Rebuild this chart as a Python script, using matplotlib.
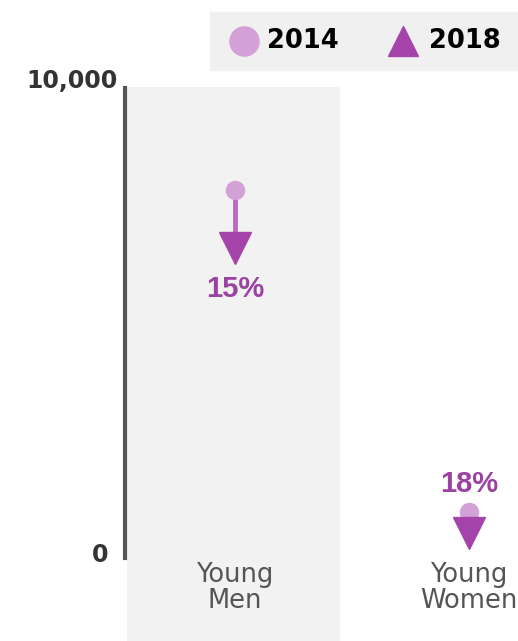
import matplotlib.pyplot as plt
from matplotlib.patches import Rectangle
import matplotlib.transforms as mtransforms

# values
categories = ['Young\nMen', 'Young\nWomen']
v2014 = [7830, 980]
v2018 = [6600, 530]
pct_labels = ['15%', '18%']
yticks = [0, 10000]
ytick_labels = ['0', '10,000']

c14 = '#d4a0d8'
c18 = '#a444aa'
ctext = '#9b42a3'

plt.rcParams['font.family'] = ['DejaVu Sans']

fig = plt.figure(figsize=(5.18, 6.41), dpi=100)
W, H = 518, 641
# axes from x=125px to right edge, y=87px down to bottom
ax = fig.add_axes([125 / W, 0, 1 - 125 / W, (H - 87) / H])
ax.set_xlim(-0.47, 1.21)
ax.set_ylim(-1766, 10021)

# shaded band behind first category
ax.axvspan(-0.46, 0.45, color='#f2f2f2', zorder=0, lw=0)

for s in ['top', 'right', 'bottom']:
    ax.spines[s].set_visible(False)
ax.spines['left'].set_bounds(0, 10000)
ax.spines['left'].set_linewidth(3)
ax.spines['left'].set_color('#555555')
ax.set_xticks([])
ax.set_yticks([])

# y labels placed by hand (10,000 sits a bit above the top)
tr = mtransforms.blended_transform_factory(ax.transAxes, ax.transData)
ax.text(-0.018, yticks[1] + 150, ytick_labels[1], transform=tr, ha='right', va='center',
        fontsize=17, fontweight='bold', color='#333333')
ax.text(-0.043, yticks[0] + 60, ytick_labels[0], transform=tr, ha='right', va='center',
        fontsize=17, fontweight='bold', color='#333333')

for i, cat in enumerate(categories):
    ax.plot([i, i], [v2014[i], v2018[i]], color='#b96bbf', lw=3.5, zorder=2,
            solid_capstyle='butt')
    ax.plot(i, v2014[i], 'o', color=c14, ms=13, zorder=3)
    ax.plot(i, v2018[i], 'v', color=c18, ms=23, zorder=4)
    ax.text(i, -90, cat, ha='center', va='top', fontsize=18.5,
            color='#555555', linespacing=1.0)

ax.annotate(pct_labels[0], (0, v2018[0]), xytext=(0, -30), textcoords='offset points',
            ha='center', va='center', fontsize=21, fontweight='bold', color=ctext,
            family='Liberation Sans')
ax.annotate(pct_labels[1], (1, v2014[1]), xytext=(0, 20), textcoords='offset points',
            ha='center', va='center', fontsize=21, fontweight='bold', color=ctext,
            family='Liberation Sans')

# legend box
fig.patches.append(Rectangle((210 / W, 1 - 70 / H), (W - 210) / W, 58 / H,
                             transform=fig.transFigure, color='#f0f0f0', zorder=-1))
ax.plot([244 / W], [1 - 41 / H], 'o', color=c14, ms=21, transform=fig.transFigure,
        clip_on=False)
ax.plot([403 / W], [1 - 41 / H], '^', color=c18, ms=21, transform=fig.transFigure,
        clip_on=False)
fig.text(267 / W, 1 - 41 / H, '2014', fontsize=18.5, fontweight='bold', ha='left', va='center')
fig.text(429 / W, 1 - 41 / H, '2018', fontsize=18.5, fontweight='bold', ha='left', va='center')

fig.savefig('out.png', dpi=100, facecolor='white')
